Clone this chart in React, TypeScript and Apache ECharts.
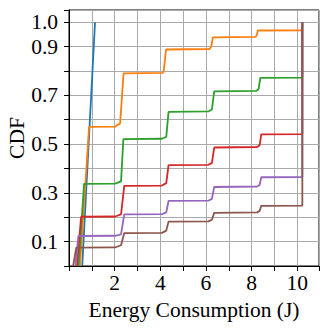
import React, { useEffect, useRef } from "react";
import * as echarts from "echarts";

const seriesNames = ["s1", "s2", "s3", "s4", "s5", "s6"];
const seriesColors = ["#1f77b4", "#ff7f0e", "#2ca02c", "#d62728", "#9467bd", "#8c564b"];

const blue: number[][] = [[0.58, 0], [0.86, 0.5], [1.14, 1.0]];
const orange: number[][] = [
  [0.48, 0], [0.88, 0.571], [2.02, 0.572], [2.24, 0.585], [2.39, 0.79], [4.11, 0.792],
  [4.15, 0.8], [4.25, 0.888], [6.16, 0.89], [6.23, 0.9], [6.3, 0.938], [8.16, 0.94],
  [8.22, 0.945], [8.27, 0.966], [10.22, 0.967], [10.22, 1.0],
];
const green: number[][] = [
  [0.42, 0], [0.66, 0.337], [2.02, 0.338], [2.28, 0.347], [2.38, 0.52], [4.07, 0.522],
  [4.26, 0.53], [4.36, 0.632], [6.11, 0.634], [6.26, 0.642], [6.36, 0.716], [8.2, 0.718],
  [8.3, 0.725], [8.38, 0.772], [10.22, 0.773], [10.22, 1.0],
];
const red: number[][] = [
  [0.35, 0], [0.53, 0.202], [2.02, 0.203], [2.28, 0.212], [2.42, 0.329], [4.07, 0.33],
  [4.26, 0.34], [4.36, 0.414], [6.11, 0.415], [6.26, 0.423], [6.36, 0.486], [8.24, 0.488],
  [8.35, 0.495], [8.42, 0.54], [10.22, 0.541], [10.22, 1.0],
];
const purple: number[][] = [
  [0.28, 0], [0.41, 0.123], [2.02, 0.124], [2.28, 0.13], [2.42, 0.212], [4.07, 0.213],
  [4.26, 0.22], [4.36, 0.267], [6.11, 0.268], [6.26, 0.275], [6.36, 0.324], [8.24, 0.326],
  [8.35, 0.332], [8.42, 0.364], [10.22, 0.365], [10.22, 1.0],
];
const brown: number[][] = [
  [0.18, 0], [0.32, 0.075], [2.02, 0.076], [2.28, 0.085], [2.42, 0.135], [4.07, 0.136],
  [4.26, 0.145], [4.36, 0.182], [6.11, 0.183], [6.26, 0.19], [6.36, 0.218], [8.24, 0.22],
  [8.35, 0.226], [8.42, 0.247], [10.22, 0.248], [10.22, 1.0],
];

const allSeries = [blue, orange, green, red, purple, brown];

const xTickLabels = ["2", "4", "6", "8", "10"];
const yTickLabels = ["0.1", "0.3", "0.5", "0.7", "0.9", "1.0"];
const xTitle = "Energy Consumption (J)";
const yTitle = "CDF";

const FONT = "'Liberation Serif', 'Times New Roman', serif";
const FS = 21.5;

export default function App() {
  const ref = useRef<HTMLDivElement>(null);
  useEffect(() => {
    document.body.style.margin = "0";
    if (!ref.current) return;
    const chart = echarts.init(ref.current, undefined, { renderer: "svg" });
    chart.setOption({
      animation: false,
      backgroundColor: "#ffffff",
      grid: {
        left: 69,
        right: 10,
        top: 10,
        bottom: 63,
        show: true,
        borderColor: "#000",
        borderWidth: 1,
        backgroundColor: "transparent",
        containLabel: false,
        outerBoundsMode: "none",
      },
      xAxis: {
        type: "value",
        min: 0,
        max: 10.95,
        interval: 1,
        name: xTitle,
        nameLocation: "middle",
        nameGap: 33,
        nameMoveOverlap: false,
        nameTextStyle: { fontFamily: FONT, fontSize: FS, color: "#000" },
        axisLine: { show: true, lineStyle: { color: "#000", width: 1 } },
        axisTick: { show: true, length: 5, inside: false, lineStyle: { color: "#000" } },
        axisLabel: {
          fontFamily: FONT,
          fontSize: FS,
          color: "#000",
          margin: 6,
          showMinLabel: true,
          showMaxLabel: true,
          formatter: (v: number) => {
            const s = String(Math.round(v * 100) / 100);
            return xTickLabels.includes(s) ? s : "";
          },
        },
        splitLine: { show: true, lineStyle: { color: "#aaaaaa", width: 1 } },
      },
      yAxis: {
        type: "value",
        min: 0,
        max: 1.05,
        interval: 0.1,
        name: yTitle,
        nameLocation: "middle",
        nameGap: 41,
        nameMoveOverlap: false,
        nameTextStyle: { fontFamily: FONT, fontSize: FS, color: "#000" },
        axisLine: { show: true, lineStyle: { color: "#000", width: 1 } },
        axisTick: { show: true, length: 5, inside: false, lineStyle: { color: "#000" } },
        axisLabel: {
          fontFamily: FONT,
          fontSize: FS,
          color: "#000",
          margin: 11,
          showMinLabel: true,
          showMaxLabel: true,
          formatter: (v: number) => {
            const s = (Math.round(v * 100) / 100).toFixed(2);
            const t = s.endsWith("0") ? s.slice(0, -1) : "";
            return yTickLabels.includes(t) ? t : "";
          },
        },
        splitLine: { show: true, lineStyle: { color: "#aaaaaa", width: 1 } },
      },
      series: allSeries.map((d, i) => ({
        name: seriesNames[i],
        type: "line",
        data: d,
        showSymbol: false,
        symbol: "none",
        lineStyle: { color: seriesColors[i], width: 1.8 },
        itemStyle: { color: seriesColors[i] },
        z: 2 + i,
      })),
    });
    return () => chart.dispose();
  }, []);
  return <div ref={ref} style={{ width: 329, height: 329 }} />;
}
